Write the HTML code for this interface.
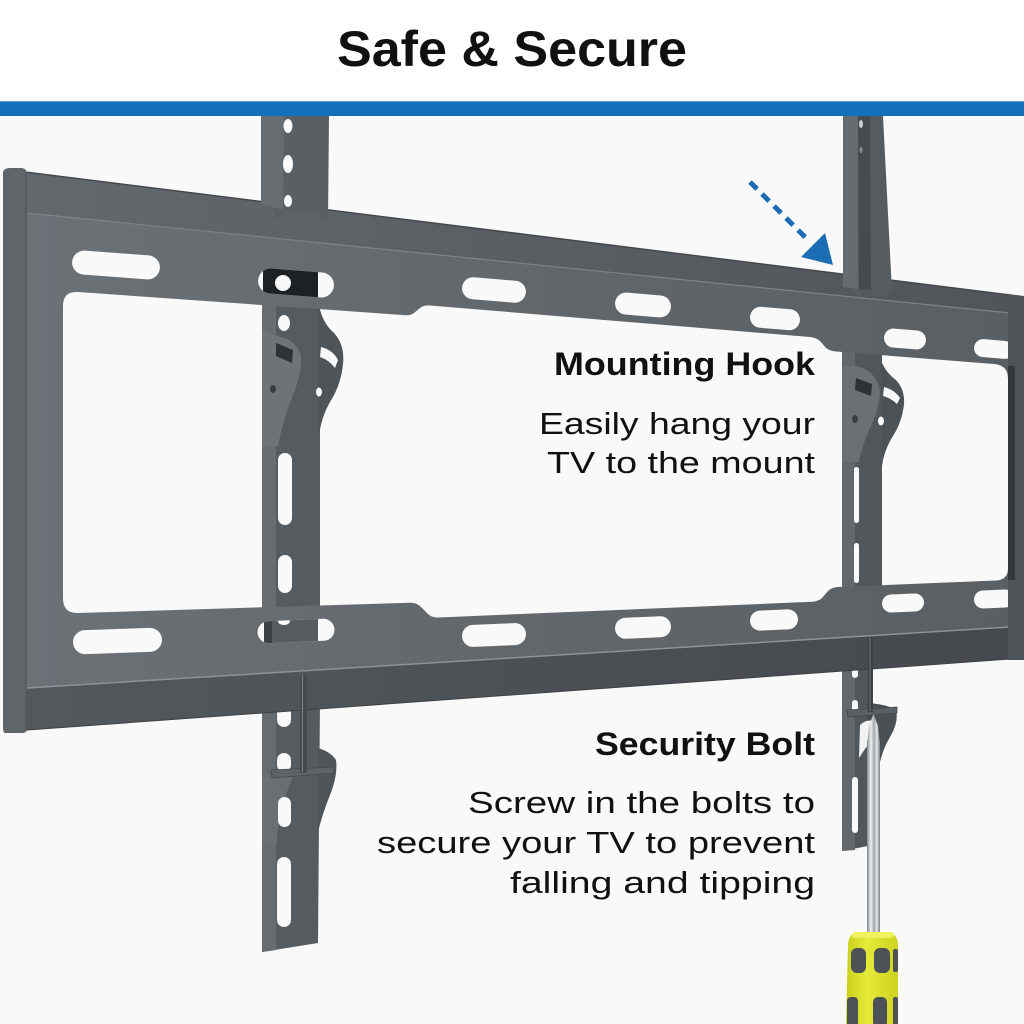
<!DOCTYPE html>
<html>
<head>
<meta charset="utf-8">
<style>
  html,body{margin:0;padding:0;background:#f9f9f9;}
  body{width:1024px;height:1024px;overflow:hidden;}
  svg{display:block;}
  .t{font-family:"Liberation Sans",Arial,sans-serif;fill:#111;}
</style>
</head>
<body>
<svg width="1024" height="1024" viewBox="0 0 1024 1024" xmlns="http://www.w3.org/2000/svg">
  <defs>
    <linearGradient id="face" x1="0" y1="0" x2="1" y2="0">
      <stop offset="0" stop-color="#6c7176"/>
      <stop offset="0.5" stop-color="#62676b"/>
      <stop offset="1" stop-color="#5a5f63"/>
    </linearGradient>
    <linearGradient id="lip" x1="0" y1="0" x2="1" y2="0">
      <stop offset="0" stop-color="#63686c"/>
      <stop offset="1" stop-color="#515559"/>
    </linearGradient>
    <linearGradient id="under" x1="0" y1="0" x2="1" y2="0">
      <stop offset="0" stop-color="#53585c"/>
      <stop offset="1" stop-color="#45494d"/>
    </linearGradient>
    <linearGradient id="shaft" x1="0" y1="0" x2="1" y2="0">
      <stop offset="0" stop-color="#80868a"/>
      <stop offset="0.3" stop-color="#eef0f1"/>
      <stop offset="0.55" stop-color="#a2a8ac"/>
      <stop offset="0.75" stop-color="#e4e6e8"/>
      <stop offset="1" stop-color="#7a8084"/>
    </linearGradient>
    <linearGradient id="handle" x1="0" y1="0" x2="1" y2="0">
      <stop offset="0" stop-color="#c8cf1a"/>
      <stop offset="0.4" stop-color="#e6ea3a"/>
      <stop offset="1" stop-color="#cdd31e"/>
    </linearGradient>
    <clipPath id="slotT2"><rect x="258" y="270.5" width="76" height="25" rx="12.5" transform="rotate(4.5 296 283)"/></clipPath>
    <clipPath id="slotB2"><rect x="257.5" y="620" width="77" height="22" rx="11" transform="rotate(-2.5 296 631)"/></clipPath>
  </defs>

  <!-- background -->
  <rect x="0" y="0" width="1024" height="1024" fill="#f9f9f9"/>
  <rect x="0" y="0" width="1024" height="102" fill="#ffffff"/>
  <rect x="0" y="101" width="1024" height="1.5" fill="#5d9fd0"/>
  <rect x="0" y="102" width="1024" height="14" fill="#1371ba"/>

  <!-- title -->
  <text class="t" x="337" y="66" font-size="50" font-weight="700" textLength="350" lengthAdjust="spacingAndGlyphs">Safe &amp; Secure</text>

  <!-- top lip of rail -->
  <polygon points="25,172 1010,295 1010,313 27,213" fill="url(#lip)"/>
  <line x1="25" y1="172" x2="1010" y2="295" stroke="#44484c" stroke-width="1.5"/>

  <!-- left arm upper -->
  <polygon points="261,116 329,116 328,222 320,222 319,214 283,210 283,219 275,219 274,206 261,204" fill="#5a5f63"/>
  <polygon points="261,116 284,116 283,210 261,204" fill="#676c70"/>
  <ellipse cx="288" cy="126" rx="4.5" ry="7" fill="#f9f9f9"/>
  <ellipse cx="288" cy="164" rx="5" ry="9" fill="#f9f9f9"/>
  <ellipse cx="288" cy="201" rx="4" ry="6" fill="#f9f9f9"/>

  <!-- right arm upper -->
  <polygon points="843,116 883,116 892,292 887,292 886,297 872,295 872,290 860,289 860,296 855,296 854,288 843,287" fill="#565b5f"/>
  <polygon points="843,116 858,116 858,289 843,287" fill="#666b6f"/>
  <polygon points="858,116 870,116 871,290 859,289" fill="#474b4f"/>
  <ellipse cx="861" cy="124" rx="2" ry="4" fill="#c9cbcd"/>
  <ellipse cx="861" cy="150" rx="1.5" ry="3" fill="#8a8e92"/>

  <!-- left arm lower -->
  <polygon points="262,295 320,295 320,700 318,943 262,952" fill="#565b5f"/>
  <polygon points="262,295 276,295 276,950 262,952" fill="#676c70"/>
  <path d="M318,300 Q321,322 334,333 Q345,345 343,364 Q341,385 330,402 Q321,418 319,436 Z" fill="#4f5458"/>
  <path d="M262,330 L277,336 Q297,340 301,356 Q302,373 293,395 Q283,420 278,446 L262,446 Z" fill="#6e7377"/>
  <path d="M276,343 L293,350 L292,363 L276,356 Z" fill="#2e3235"/>
  <ellipse cx="273" cy="389" rx="3" ry="4" fill="#3a3e41"/>
  <path d="M321,347 Q333,350 338,360 L335,368 Q329,360 320,357 Z" fill="#f9f9f9"/>
  <ellipse cx="319" cy="392" rx="3" ry="4.5" fill="#f9f9f9"/>
  <ellipse cx="284" cy="323" rx="6" ry="8" fill="#f9f9f9"/>
  <rect x="278" y="453" width="14" height="72" rx="7" fill="#f9f9f9"/>
  <rect x="278" y="555" width="14" height="38" rx="7" fill="#f9f9f9"/>
  <!-- below rail -->
  <path d="M262,777 L293,777 Q285,795 280,815 Q277,830 277,845 L262,845 Z" fill="#6a6f73"/>
  <path d="M318,748 Q331,752 336,760 Q338,775 330,795 Q322,815 318,832 Z" fill="#4f5458"/>
  <rect x="277" y="705" width="14" height="22" rx="7" fill="#f9f9f9"/>
  <rect x="277" y="753" width="14" height="19" rx="7" fill="#f9f9f9"/>
  <rect x="278" y="797" width="13" height="30" rx="6.5" fill="#f9f9f9"/>
  <rect x="277" y="857" width="14" height="70" rx="7" fill="#f9f9f9"/>
  <polygon points="271,770 334,767 334,773 272,778" fill="#5e6367" stroke="#44484b" stroke-width="0.8"/>

  <!-- right arm lower -->
  <polygon points="842,345 882,345 882,600 868,620 868,846 842,851" fill="#52575b"/>
  <polygon points="842,345 855,345 855,850 842,851" fill="#63686c"/>
  <path d="M881,360 Q885,372 896,380 Q905,390 904,404 Q902,422 893,436 Q884,450 882,466 Z" fill="#4d5256"/>
  <path d="M842,366 L857,366 Q877,371 880,392 Q879,410 870,428 Q862,445 859,462 L842,462 Z" fill="#6b7074"/>
  <path d="M856,378 L872,384 L871,396 L855,390 Z" fill="#2e3235"/>
  <ellipse cx="855" cy="419" rx="3" ry="4" fill="#3a3e41"/>
  <path d="M884,387 Q895,390 900,398 L897,404 Q891,398 883,396 Z" fill="#f9f9f9"/>
  <ellipse cx="881" cy="421" rx="3" ry="4.5" fill="#f9f9f9"/>
  <rect x="854" y="467" width="5" height="56" rx="2.5" fill="#f9f9f9"/>
  <rect x="854" y="543" width="5" height="40" rx="2.5" fill="#f9f9f9"/>
  <!-- below rail -->
  <rect x="852" y="664" width="6" height="14" rx="3" fill="#f9f9f9"/>
  <rect x="852" y="700" width="6" height="12" rx="3" fill="#f9f9f9"/>
  <rect x="852" y="777" width="6" height="56" rx="3" fill="#f9f9f9"/>
  <path d="M866,703 Q887,704 896,710 Q899,722 890,737 Q881,752 878,772 L868,772 Z" fill="#4b5054"/>
  <path d="M860,725 Q866,719 874,721 L870,742 Q864,750 859,758 Z" fill="#f2f2f2"/>
  <polygon points="847,710 897,707 897,713 848,717" fill="#5b6064" stroke="#43474a" stroke-width="0.8"/>

  <!-- front face with window -->
  <path fill-rule="evenodd" fill="url(#face)" d="M27,213 L1010,313 L1010,627 L27,688 Z
    M63,306 Q63,291 78,292 L403,315 Q410,316 414,313 L420,308 Q424,305 430,305.5 L810,337 Q816,337.5 820,341 L826,348 Q830,351 836,351.5 L994,364 Q1008,365 1008,379 L1008,568 Q1008,580 996,580.5 L838,587 Q832,587.3 828,591 L822,598 Q818,601.5 812,601.8 L438,617.5 Q432,617.8 428,614 L420,606 Q416,602.5 410,602.7 L78,613 Q63,613.5 63,598 Z"/>
  <line x1="27" y1="213" x2="1010" y2="313" stroke="#7e8388" stroke-width="1.2"/>

  <!-- top rail slots -->
  <rect x="72" y="253" width="88" height="24" rx="12" fill="#f9f9f9" transform="rotate(4.3 116 265)"/>
  <rect x="258" y="270.5" width="76" height="25" rx="12.5" fill="#f9f9f9" transform="rotate(4.5 296 283)"/>
  <g clip-path="url(#slotT2)">
    <rect x="263" y="260" width="55" height="45" fill="#1e2124"/>
    <circle cx="283" cy="283" r="8" fill="#f9f9f9"/>
  </g>
  <rect x="462" y="279" width="64" height="22" rx="11" fill="#f9f9f9" transform="rotate(4.8 494 290)"/>
  <rect x="615" y="294" width="56" height="22" rx="11" fill="#f9f9f9" transform="rotate(4.8 643 305)"/>
  <rect x="750" y="308" width="50" height="21" rx="10.5" fill="#f9f9f9" transform="rotate(4.8 775 318.5)"/>
  <rect x="884" y="329.5" width="42" height="19" rx="9.5" fill="#f9f9f9" transform="rotate(4.8 905 339)"/>
  <rect x="974" y="340" width="40" height="18" rx="9" fill="#f9f9f9" transform="rotate(4.8 994 349)"/>

  <!-- bottom rail slots -->
  <rect x="73" y="629" width="89" height="24" rx="12" fill="#f9f9f9" transform="rotate(-2 117.5 641)"/>
  <rect x="257.5" y="620" width="77" height="22" rx="11" fill="#f9f9f9" transform="rotate(-2.5 296 631)"/>
  <g clip-path="url(#slotB2)">
    <rect x="271" y="612" width="47" height="40" fill="#575c60"/>
    <rect x="264" y="612" width="8" height="40" fill="#3c4043"/>
    <ellipse cx="284" cy="621" rx="6" ry="4" fill="#f9f9f9"/>
  </g>
  <rect x="462" y="624" width="64" height="22" rx="11" fill="#f9f9f9" transform="rotate(-2.5 494 635)"/>
  <rect x="615" y="617" width="56" height="21" rx="10.5" fill="#f9f9f9" transform="rotate(-2.5 643 627.5)"/>
  <rect x="750" y="610" width="48" height="20" rx="10" fill="#f9f9f9" transform="rotate(-2.5 774 620)"/>
  <rect x="882" y="594" width="42" height="18" rx="9" fill="#f9f9f9" transform="rotate(-2.5 903 603)"/>
  <rect x="974" y="590" width="40" height="18" rx="9" fill="#f9f9f9" transform="rotate(-2.5 994 599)"/>

  <!-- underside of bottom rail -->
  <polygon points="27,688 1010,627 1010,659 27,730" fill="url(#under)"/>
  <line x1="27" y1="688" x2="1010" y2="627" stroke="#8d9296" stroke-width="1.5"/>
  <line x1="27" y1="730" x2="1010" y2="659" stroke="#3e4245" stroke-width="1"/>

  <!-- left flange -->
  <path d="M3,172 Q4,168 10,168 L22,168 Q27,169 27,174 L27,730 Q26,733 22,733 L5,733 Q3,732 3,728 Z" fill="#606569"/>
  <line x1="26" y1="174" x2="26" y2="731" stroke="#54585c" stroke-width="1.5"/>

  <!-- right flange -->
  <polygon points="1008,294 1024,296 1024,660 1008,660" fill="#4e5357"/>
  <rect x="1008" y="366" width="7" height="214" fill="#36393c"/>

  <!-- bolts -->
  <rect x="300" y="674" width="7" height="99" fill="#474b4f"/>
  <line x1="302.5" y1="674" x2="302.5" y2="772" stroke="#7b8084" stroke-width="1"/>
  <rect x="868" y="637" width="5" height="75" fill="#3e4245"/>
  <line x1="870" y1="637" x2="870" y2="711" stroke="#6e7377" stroke-width="1"/>

  <!-- screwdriver -->
  <rect x="867" y="740" width="13" height="196" fill="url(#shaft)"/>
  <path d="M867,746 L869,726 L873.5,714 L878,726 L880,746 Z" fill="url(#shaft)"/>
  <path d="M848,946 Q848,933 859,932 L887,932 Q898,933 898,946 L898,1024 L846,1024 Z" fill="url(#handle)"/>
  <rect x="852" y="932" width="42" height="6" rx="3" fill="#eef25c"/>
  <rect x="851" y="948" width="15" height="25" rx="6" fill="#4d5256"/>
  <rect x="874" y="948" width="16" height="25" rx="6" fill="#4d5256"/>
  <rect x="893" y="949" width="5" height="23" rx="2" fill="#4d5256"/>
  <rect x="847" y="997" width="11" height="30" rx="4" fill="#4d5256"/>
  <rect x="873" y="997" width="14" height="30" rx="5" fill="#4d5256"/>
  <rect x="893" y="997" width="5" height="30" rx="2" fill="#4d5256"/>

  <!-- blue dashed arrow -->
  <line x1="750" y1="182" x2="809" y2="241" stroke="#1d6db5" stroke-width="5" stroke-dasharray="10 7"/>
  <polygon points="825,233 801,257 833,265" fill="#1d6db5"/>

  <!-- text -->
  <text class="t" x="554" y="375" font-size="32" font-weight="700" textLength="261" lengthAdjust="spacingAndGlyphs">Mounting Hook</text>
  <text class="t" x="539" y="434" font-size="31" textLength="276" lengthAdjust="spacingAndGlyphs">Easily hang your</text>
  <text class="t" x="547" y="473" font-size="31" textLength="268" lengthAdjust="spacingAndGlyphs">TV to the mount</text>

  <text class="t" x="595" y="755" font-size="32" font-weight="700" textLength="220" lengthAdjust="spacingAndGlyphs">Security Bolt</text>
  <text class="t" x="468" y="813" font-size="31" textLength="347" lengthAdjust="spacingAndGlyphs">Screw in the bolts to</text>
  <text class="t" x="377" y="853" font-size="31" textLength="438" lengthAdjust="spacingAndGlyphs">secure your TV to prevent</text>
  <text class="t" x="510" y="893" font-size="31" textLength="305" lengthAdjust="spacingAndGlyphs">falling and tipping</text>
</svg>
</body>
</html>
